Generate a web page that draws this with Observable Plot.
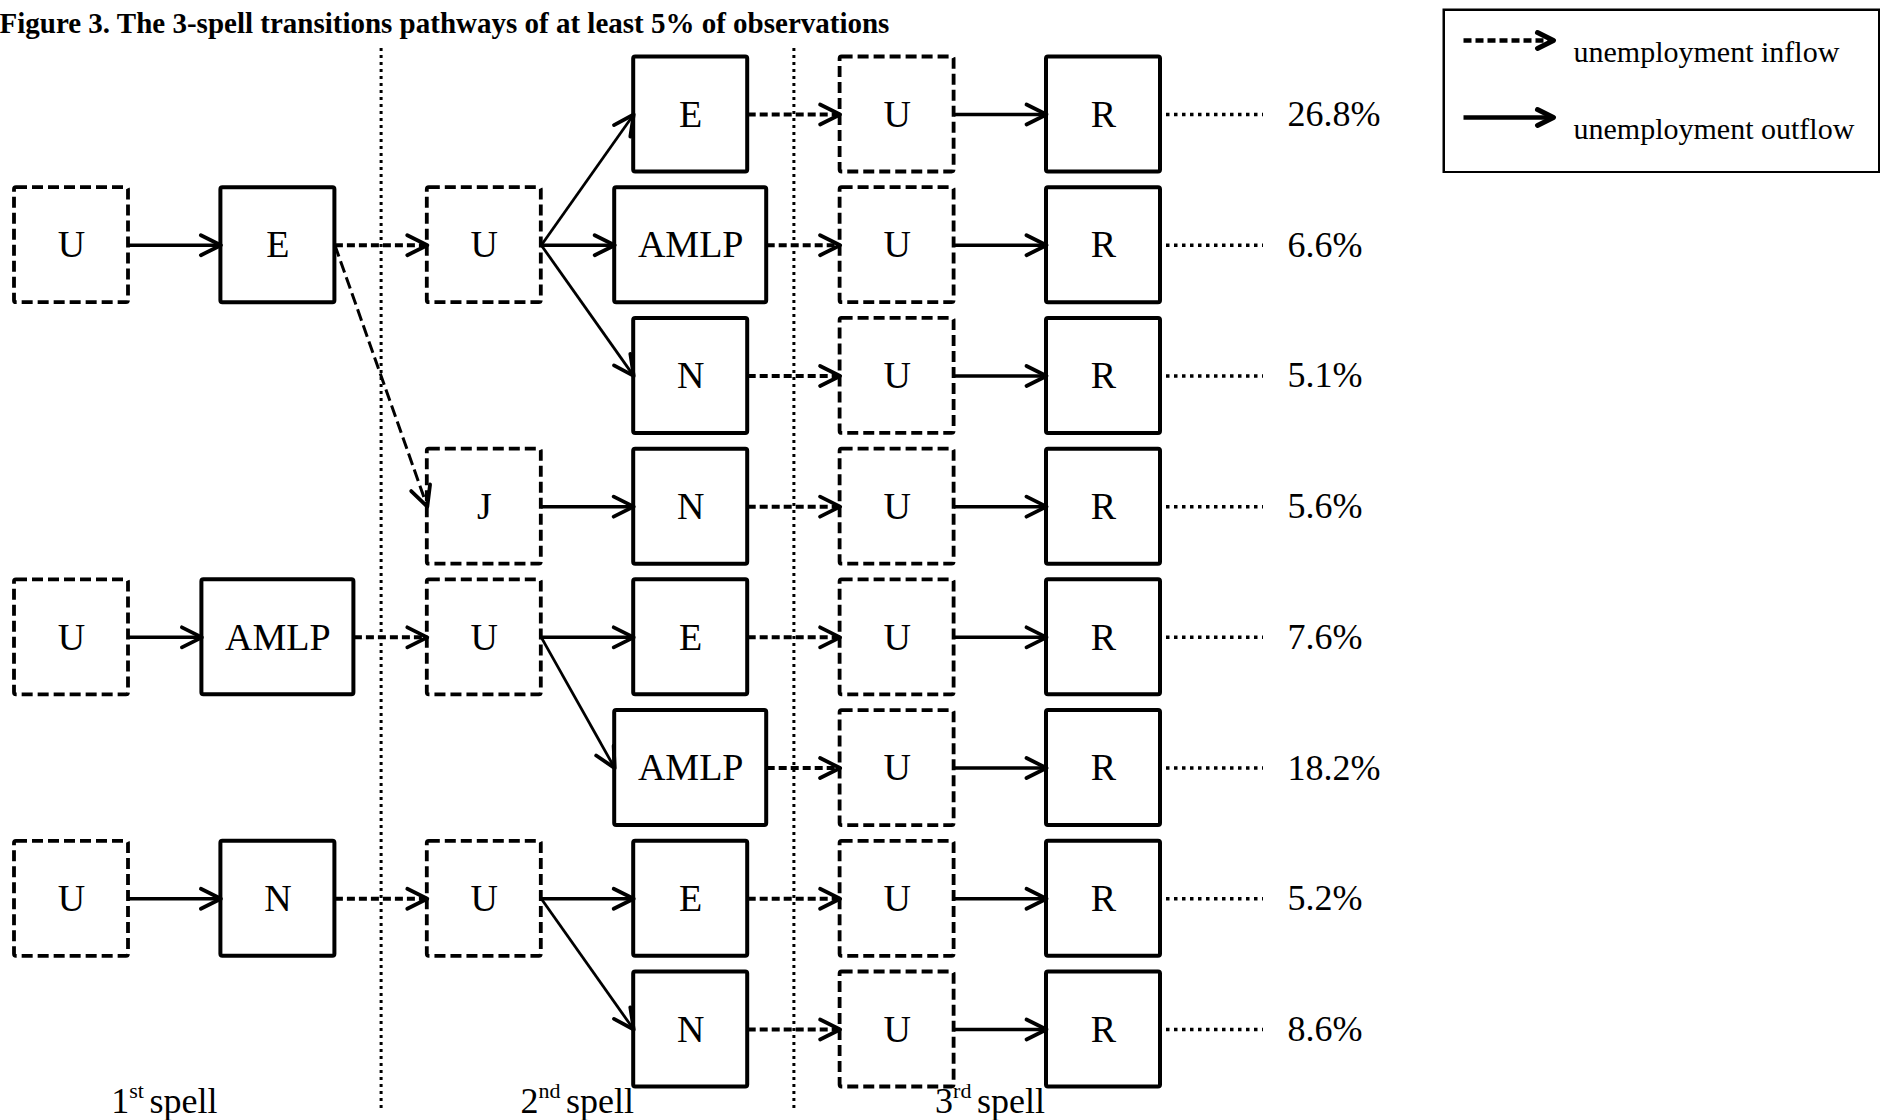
<!DOCTYPE html>
<html>
<head>
<meta charset="utf-8">
<script src="https://cdn.jsdelivr.net/npm/d3@7"></script>
<script src="https://cdn.jsdelivr.net/npm/@observablehq/plot@0.6"></script>
<style>
  html, body { margin: 0; padding: 0; background: #fff; }
  #wrap { position: relative; width: 1881px; height: 1120px; overflow: hidden; background: #fff; }
  #legend { position: absolute; left: 1442px; top: 8px; }
</style>
</head>
<body>
<div id="wrap"><div id="chart"></div><div id="legend"></div></div>
<script>
// ---------------- data ----------------
const titleText = "Figure 3. The 3-spell transitions pathways of at least 5% of observations";
// one entry per pathway (top to bottom)
const spell1Entry = ["U", "U", "U", "U", "U", "U", "U", "U"];
const spell1Exit  = ["E", "E", "E", "E", "AMLP", "AMLP", "N", "N"];
const spell2Entry = ["U", "U", "U", "J", "U", "U", "U", "U"];
const spell2Exit  = ["E", "AMLP", "N", "N", "E", "AMLP", "E", "N"];
const spell3Entry = ["U", "U", "U", "U", "U", "U", "U", "U"];
const spell3Exit  = ["R", "R", "R", "R", "R", "R", "R", "R"];
const pathwayShare = [26.8, 6.6, 5.1, 5.6, 7.6, 18.2, 5.2, 8.6];
const spellNames = ["1st spell", "2nd spell", "3rd spell"];
const legendKinds = ["inflow", "outflow"];
const legendLabels = ["unemployment inflow", "unemployment outflow"];

// ---------------- layout / style constants ----------------
const FONT = "'Liberation Serif', 'Times New Roman', Times, serif";
const COL_FIRST_PX = 71, COL_LAST_PX = 1103;
const ROW_FIRST_PX = 114, ROW_LAST_PX = 1029;
const BOX_W = 114, WIDE_BOX_W = 152, BOX_H = 115;
const nCols = 6;
const kx = (COL_LAST_PX - COL_FIRST_PX) / (nCols - 1);
const ky = (ROW_LAST_PX - ROW_FIRST_PX) / (pathwayShare.length - 1);

// ---------------- build the tree ----------------
const paths = pathwayShare.map((share, i) => ({
  row: i + 1, share,
  states: [spell1Entry[i], spell1Exit[i], spell2Entry[i], spell2Exit[i], spell3Entry[i], spell3Exit[i]]
}));
const keyOf = (p, c) => p.states.slice(0, Math.max(c + 1, 2)).join("|");
const col3Row = new Map([...d3.group(paths, p => keyOf(p, 2))]
  .map(([k, ps]) => [k, Math.floor(d3.mean(ps, p => p.row))]));
function nodeRow(c, ps) {
  if (c >= 3) return ps[0].row;
  if (c === 2) return Math.floor(d3.mean(ps, p => p.row));
  return d3.min(ps, p => col3Row.get(keyOf(p, 2)));
}
const nodes = [];
const nodeByKey = new Map();
for (let c = 0; c < nCols; ++c) {
  for (const [k, ps] of d3.group(paths, p => keyOf(p, c))) {
    const n = {key: c + ":" + k, col: c + 1, row: nodeRow(c, ps), label: ps[0].states[c], entry: c % 2 === 0};
    nodes.push(n);
    nodeByKey.set(n.key, n);
  }
}
const nodeOf = (p, c) => nodeByKey.get(c + ":" + keyOf(p, c));
const halfW = n => (n.label.length > 1 ? WIDE_BOX_W : BOX_W) / 2 / kx;
const halfH = BOX_H / 2 / ky;

const edgeMap = new Map();
for (const p of paths) {
  for (let c = 0; c < nCols - 1; ++c) {
    const a = nodeOf(p, c), b = nodeOf(p, c + 1);
    edgeMap.set(a.key + ">" + b.key, {from: a, to: b, inflow: c % 2 === 1});
  }
}
const edges = [...edgeMap.values()].map(e => {
  const x1 = e.from.col + halfW(e.from), y1 = e.from.row;
  const x2 = e.to.col - halfW(e.to), y2 = e.to.row;
  const angle = Math.atan2((x2 - x1) * kx, -(y2 - y1) * ky) * 180 / Math.PI;
  return {...e, x1, y1, x2, y2, angle, straight: y1 === y2};
});

const rCol = nCols;
const leaderStart = rCol + (BOX_W / 2 + 6) / kx;
const leaderEnd = rCol + (BOX_W / 2 + 103) / kx;
const separators = d3.range(1, spellNames.length).map(k => 2 * k + 0.5);

const chevron = wing => ({
  draw(ctx, l) { ctx.moveTo(-wing, 0); ctx.lineTo(0, -l); ctx.lineTo(wing, 0); }
});
const fmt = d3.format(".1f");

const boxOpts = {
  x1: n => n.col - halfW(n), x2: n => n.col + halfW(n),
  y1: n => n.row - halfH, y2: n => n.row + halfH,
  fill: "white", stroke: "black", rx: 2
};
const linkOpts = {x1: "x1", y1: "y1", x2: "x2", y2: "y2", stroke: "black"};

const chart = Plot.plot({
  width: 1881, height: 1120, margin: 0,
  x: {domain: [1, nCols], range: [COL_FIRST_PX, COL_LAST_PX], axis: null},
  y: {domain: [1, paths.length], range: [ROW_FIRST_PX, ROW_LAST_PX], axis: null},
  style: {fontFamily: FONT, background: "white", color: "black", overflow: "visible"},
  marks: [
    Plot.ruleX(separators, {x: d => d, insetTop: 48, insetBottom: 8, stroke: "black", strokeWidth: 3, strokeDasharray: "3,4"}),
    Plot.rect(nodes.filter(n => n.entry), {...boxOpts, strokeWidth: 3.8, strokeDasharray: "11,5"}),
    Plot.rect(nodes.filter(n => !n.entry), {...boxOpts, strokeWidth: 4}),
    Plot.link(edges.filter(e => e.inflow && e.straight), {...linkOpts, strokeWidth: 4, strokeDasharray: "8,4"}),
    Plot.link(edges.filter(e => e.inflow && !e.straight), {...linkOpts, strokeWidth: 3, strokeDasharray: "12,5"}),
    Plot.link(edges.filter(e => !e.inflow && e.straight), {...linkOpts, strokeWidth: 3.5}),
    Plot.link(edges.filter(e => !e.inflow && !e.straight), {...linkOpts, strokeWidth: 2.8}),
    Plot.vector(edges, {x: "x2", y: "y2", rotate: "angle", length: 20, anchor: "end", shape: chevron(10), stroke: "black", strokeWidth: 3.8, strokeLinejoin: "round", strokeLinecap: "round"}),
    Plot.text(nodes, {x: "col", y: "row", text: "label", fontSize: 38, fill: "black"}),
    Plot.ruleY(paths, {y: "row", x1: leaderStart, x2: leaderEnd, stroke: "black", strokeWidth: 3.5, strokeDasharray: "3.5,4.5"}),
    Plot.text(paths, {x: leaderEnd, y: "row", dx: 24, text: p => fmt(p.share) + "%", textAnchor: "start", fontSize: 36, fill: "black"}),
    Plot.text(spellNames, {x: (d, i) => 2 * i + 1.45, frameAnchor: "bottom", lineAnchor: "bottom", dy: -8, text: d => d, fontSize: 36, fill: "black"}),
    Plot.text([titleText], {frameAnchor: "top-left", textAnchor: "start", lineAnchor: "bottom", dx: -1, dy: 32, text: d => d, fontSize: 29, fontWeight: "bold", fill: "black"})
  ]
});
document.getElementById("chart").append(chart);

// superscript ordinals in the spell labels
const svgns = "http://www.w3.org/2000/svg";
chart.querySelectorAll("text").forEach(t => {
  const m = /^(\d+)(st|nd|rd|th)\s(.*)$/.exec(t.textContent);
  if (!m) return;
  t.textContent = m[1];
  const sup = document.createElementNS(svgns, "tspan");
  sup.setAttribute("font-size", "22");
  sup.setAttribute("dy", "-15");
  sup.textContent = m[2] + " ";
  const rest = document.createElementNS(svgns, "tspan");
  rest.setAttribute("dy", "15");
  rest.textContent = m[3];
  t.append(sup, rest);
});

// ---------------- legend ----------------
const legendRows = legendKinds.map((kind, i) => ({kind, label: legendLabels[i]}));
const legend = Plot.plot({
  width: 438, height: 165, margin: 0,
  x: {domain: [0, 1], range: [21, 111], axis: null},
  y: {type: "point", domain: legendKinds, range: [32, 109], padding: 0, axis: null},
  style: {fontFamily: FONT, background: "white", color: "black"},
  marks: [
    Plot.frame({stroke: "black", strokeWidth: 2.5, inset: 1.25}),
    Plot.link(legendRows.filter(d => d.kind === "inflow"), {x1: 0, x2: 1, y1: "kind", y2: "kind", stroke: "black", strokeWidth: 4.5, strokeDasharray: "8,4"}),
    Plot.link(legendRows.filter(d => d.kind === "outflow"), {x1: 0, x2: 1, y1: "kind", y2: "kind", stroke: "black", strokeWidth: 4.5}),
    Plot.vector(legendRows, {x: 1, y: "kind", rotate: 90, length: 16, anchor: "end", shape: chevron(8), stroke: "black", strokeWidth: 5, strokeLinejoin: "round", strokeLinecap: "round"}),
    Plot.text(legendRows, {x: 1, y: "kind", dx: 20, dy: 21, lineAnchor: "bottom", textAnchor: "start", text: "label", fontSize: 30, fill: "black"})
  ]
});
document.getElementById("legend").append(legend);
</script>
</body>
</html>
